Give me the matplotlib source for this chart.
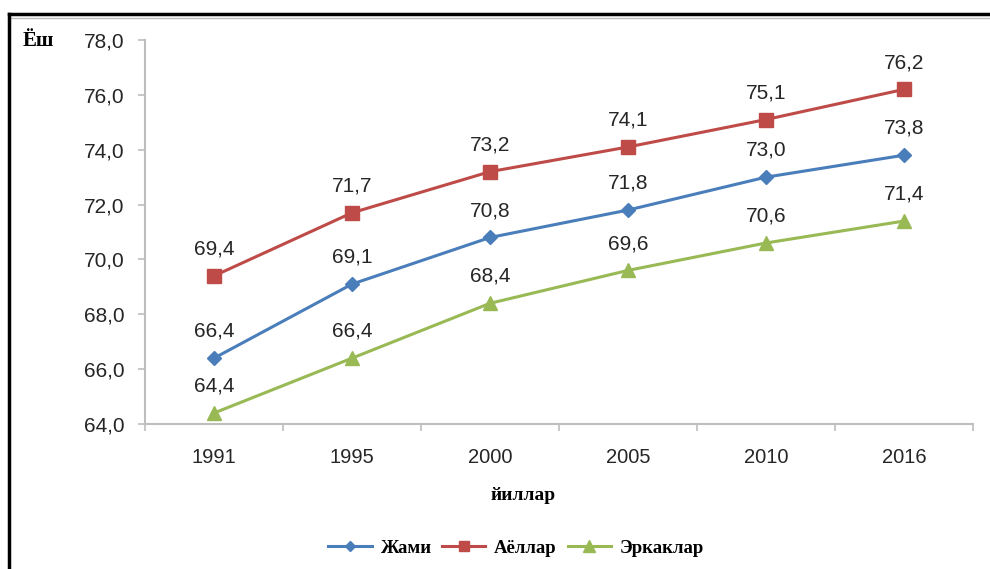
import matplotlib.pyplot as plt
import numpy as np
from matplotlib.lines import Line2D

years = ['1991', '1995', '2000', '2005', '2010', '2016']
jami = [66.4, 69.1, 70.8, 71.8, 73.0, 73.8]
ayollar = [69.4, 71.7, 73.2, 74.1, 75.1, 76.2]
erkaklar = [64.4, 66.4, 68.4, 69.6, 70.6, 71.4]

series = [
    ('Жами', jami, '#4A7EBB', 'D', 7),
    ('Аёллар', ayollar, '#BE4B48', 's', 9.5),
    ('Эркаклар', erkaklar, '#98B954', '^', 10.5),
]

fig = plt.figure(figsize=(9.9, 5.69), dpi=100)
ax = fig.add_axes([145 / 990, 1 - 424 / 569, (973 - 145) / 990, (424 - 40) / 569])

x = np.arange(len(years))
for name, vals, col, mk, ms in series:
    ax.plot(x, vals, color=col, lw=2.2, marker=mk, markersize=ms, label=name)
    for xi, v in zip(x, vals):
        ax.annotate(f'{v:.1f}'.replace('.', ','), (xi, v), xytext=(0, 12.5),
                    textcoords='offset points', ha='center', va='bottom',
                    fontsize=15, color='#262626', family='Liberation Sans')

ax.set_xlim(-0.5, 5.5)
ax.set_ylim(64, 78)
ax.set_yticks(np.arange(64, 78.1, 2))
ax.set_yticklabels([f'{v:.1f}'.replace('.', ',') for v in np.arange(64, 78.1, 2)])
ax.set_xticks(x)
ax.set_xticklabels(years)
ax.set_xticks(np.arange(-0.5, 5.6, 1), minor=True)
ax.tick_params(axis='x', which='major', length=0, pad=17)
ax.tick_params(axis='x', which='minor', length=5, color='#BEBEBE', width=1.2)
ax.tick_params(axis='y', length=5, color='#BEBEBE', width=1.2, pad=10)
for lab in ax.get_yticklabels():
    lab.set_fontsize(15)
for lab in ax.get_xticklabels():
    lab.set_fontsize(14.5)
for lab in ax.get_xticklabels() + ax.get_yticklabels():
    lab.set_color('#262626')
    lab.set_family('Liberation Sans')

for s in ['top', 'right']:
    ax.spines[s].set_visible(False)
for s in ['left', 'bottom']:
    ax.spines[s].set_color('#BEBEBE')
    ax.spines[s].set_linewidth(1.5)

fig.text(23 / 990, 1 - 41 / 569, 'Ёш', fontsize=15, fontweight='bold',
         family='Liberation Serif', ha='left', va='center')
fig.text(523 / 990, 1 - 495 / 569, 'йиллар', fontsize=14, fontweight='bold',
         family='Liberation Serif', ha='center', va='center')

handles = [Line2D([], [], color=c, lw=2.2, marker=m, markersize=ms * 0.8)
           for _, _, c, m, ms in series]
fig.legend(handles, [s[0] for s in series], loc='center', ncol=3,
           bbox_to_anchor=(516 / 990, 1 - 548 / 569), frameon=False,
           prop={'family': 'Liberation Serif', 'weight': 'bold', 'size': 13.5},
           handlelength=2.3, columnspacing=0.6, handletextpad=0.45)

# frame lines of the original picture
fig.add_artist(Line2D([9 / 990, 1], [1 - 14 / 569] * 2, color='black', lw=2.5,
                      transform=fig.transFigure))
fig.add_artist(Line2D([9 / 990, 1], [1 - 18 / 569] * 2, color='#BBBBBB', lw=1,
                      transform=fig.transFigure))
fig.add_artist(Line2D([9 / 990] * 2, [0, 1 - 14 / 569], color='black', lw=2.5,
                      transform=fig.transFigure))

fig.savefig('out.png', dpi=100)
